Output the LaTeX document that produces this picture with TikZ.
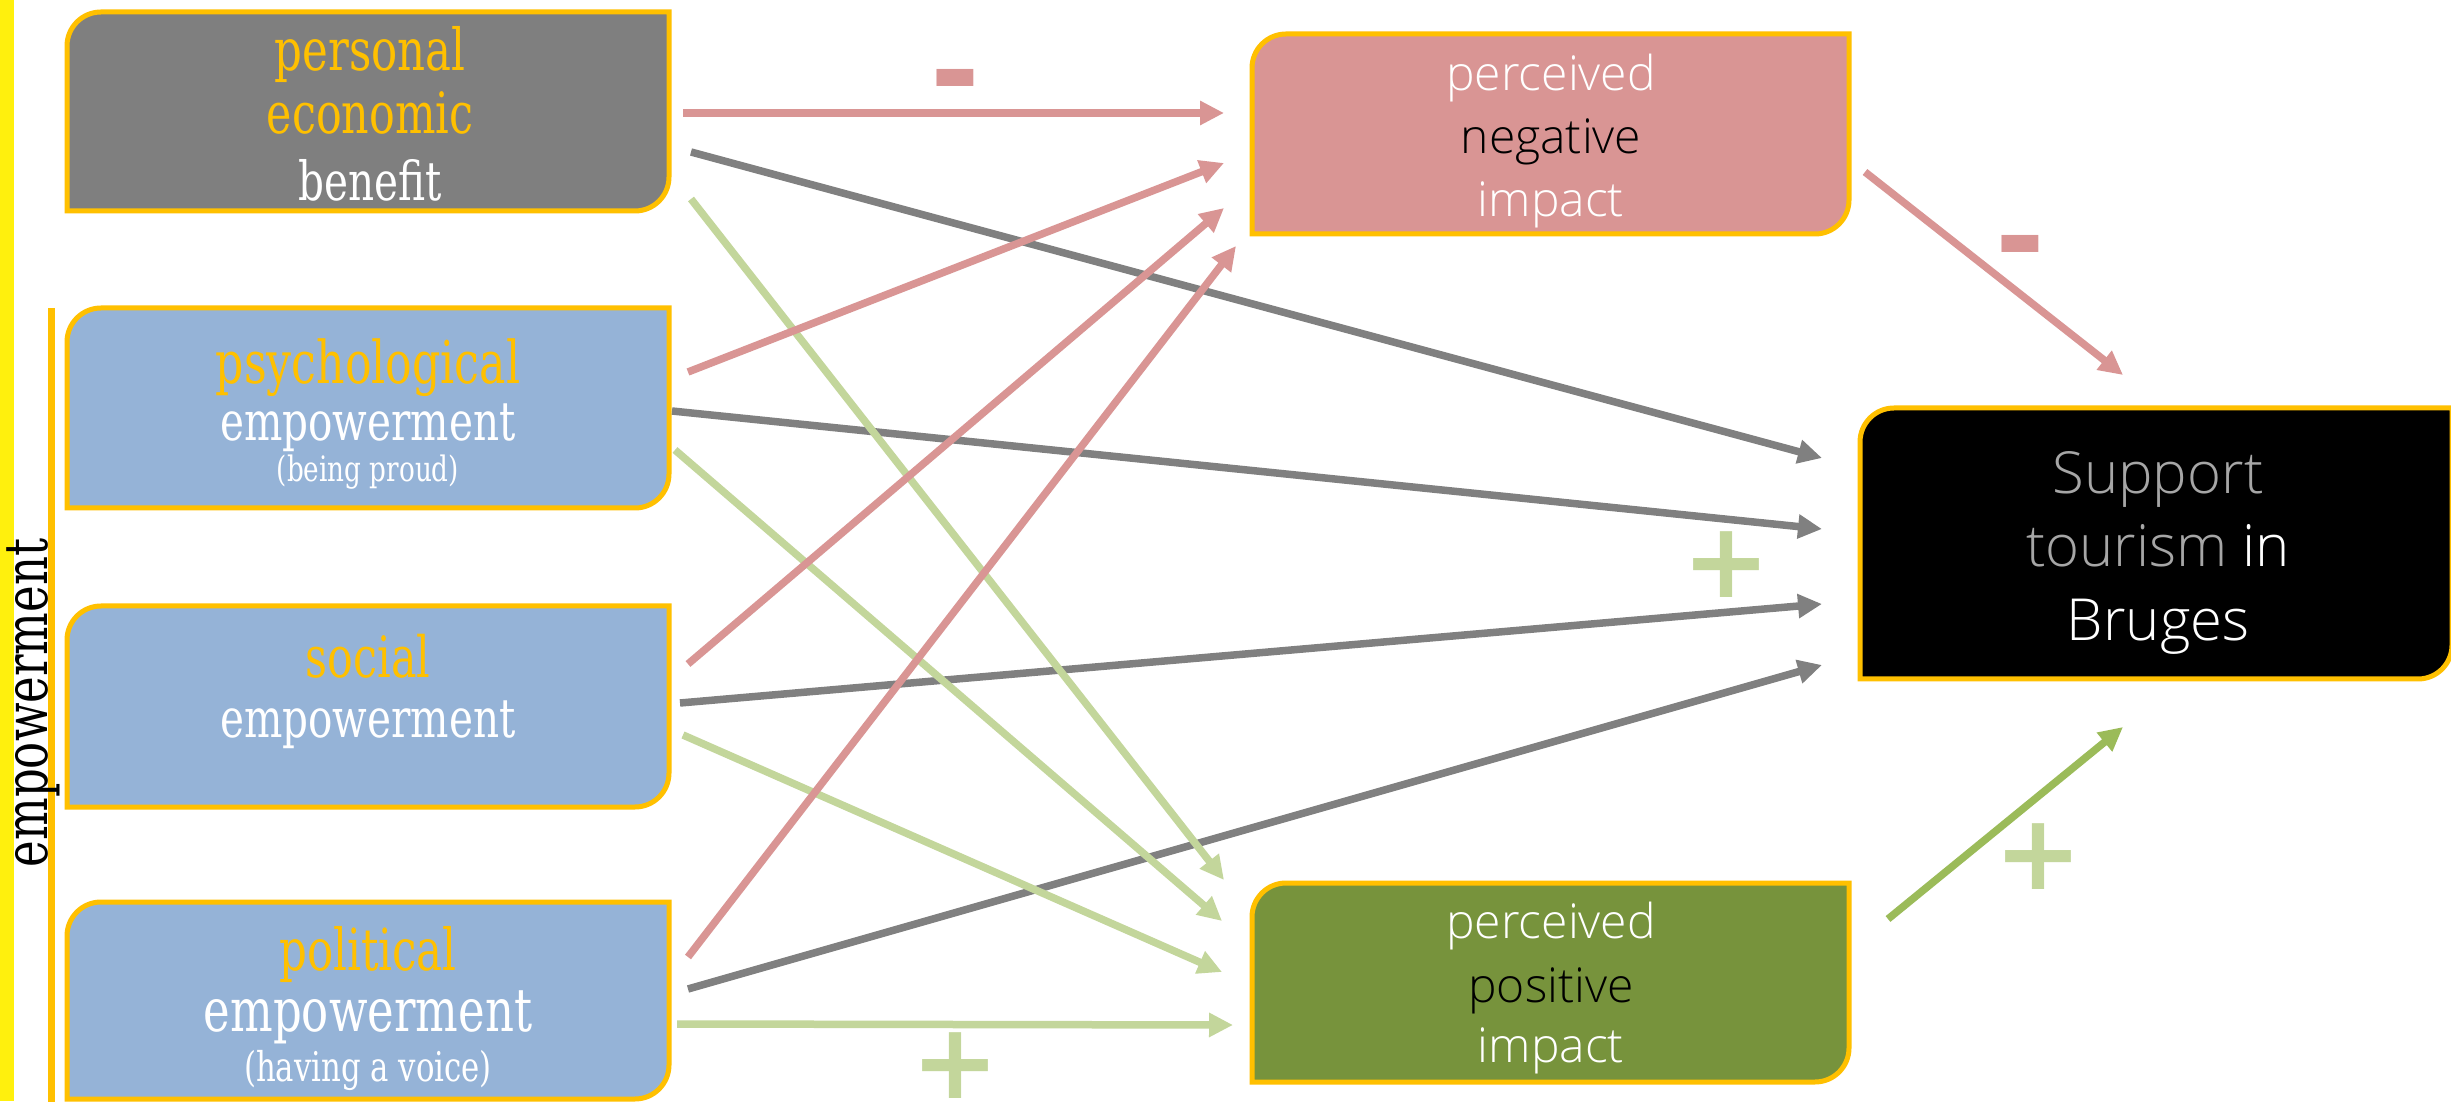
\documentclass[tikz,border=0pt]{standalone}
\usepackage{fontspec}
\usetikzlibrary{arrows.meta}
\newfontfamily\slab{DejaVu Serif}[FakeStretch=0.75]
\newfontfamily\osans{Open Sans Light}
\newfontfamily\signfont{DejaVu Sans Bold}
\definecolor{gold}{HTML}{FFC000}
\definecolor{edgeyellow}{rgb}{1,0.94,0.05}
\definecolor{graybox}{HTML}{7F7F7F}
\definecolor{bluebox}{HTML}{95B3D7}
\definecolor{pinkc}{HTML}{D99594}
\definecolor{greenbox}{HTML}{77933C}
\definecolor{lgreen}{HTML}{C3D69B}
\definecolor{dgreen}{HTML}{9BBB59}
\definecolor{grayarrow}{HTML}{808080}
\definecolor{lightgraytext}{HTML}{A6A6A6}
\newcommand\tabbox[2]{%
  \path[draw=gold, line width=5pt, fill=#2]
    (#1.south west) -- ([yshift=-34pt]#1.north west)
    arc[start angle=180, end angle=90, radius=34pt]
    -- (#1.north east) -- ([yshift=34pt]#1.south east)
    arc[start angle=0, end angle=-90, radius=34pt] -- cycle;}
\tikzset{
  boxarea/.style 2 args={inner sep=0pt, outer sep=0pt, minimum width=#1, minimum height=#2},
  sl/.style={anchor=base, inner sep=0pt, font=\slab\fontsize{#1}{#1}\selectfont},
  ss/.style={anchor=base, inner sep=0pt, font=\osans\fontsize{#1}{#1}\selectfont},
  sign/.style={inner sep=0pt, font=\signfont\fontsize{#1}{#1}\selectfont},
  conn/.style={line width=7.5pt, -{Triangle[length=24pt,width=23pt]}},
  redc/.style={conn, draw=pinkc},
  grayc/.style={conn, draw=grayarrow},
  greenc/.style={conn, draw=lgreen},
  dgreenc/.style={conn, draw=dgreen},
}
\begin{document}
\begin{tikzpicture}[x=1pt, y=1pt]
\path[fill=white] (0,0) rectangle (2451,1101);
\useasboundingbox (0,0) rectangle (2451,1101);
% left bars
\path[fill=edgeyellow] (0,0) rectangle (14,1101);
\draw[gold, line width=7pt] (51.5,793) -- (51.5,-5);
\node[sl=60, rotate=90, text=black] (emp) at (47,398) {empowerment};
% box areas
\node[boxarea={602}{199}] (pe) at (368,989.5) {};
\node[boxarea={602}{200}] (ps) at (368,693) {};
\node[boxarea={602}{201}] (so) at (368,394.5) {};
\node[boxarea={602}{197}] (po) at (368,100.5) {};
\node[boxarea={597}{200}] (ng) at (1550.5,967) {};
\node[boxarea={597}{199}] (pv) at (1550.5,118.5) {};
\node[boxarea={592}{271}] (su) at (2156,557.5) {};
\tabbox{pe}{graybox}
\tabbox{ps}{bluebox}
\tabbox{so}{bluebox}
\tabbox{po}{bluebox}
\tabbox{ng}{pinkc}
\tabbox{pv}{greenbox}
\tabbox{su}{black}
% texts left
\node[sl=58, text=gold] (pe1) at (370,1030) {personal};
\node[sl=57, text=gold] (pe2) at (370,967) {economic};
\node[sl=54, text=white] (pe3) at (370,900) {benefit};
\node[sl=59, text=gold] (ps1) at (368,717) {psychological};
\node[sl=54, text=white] (ps2) at (368,660) {empowerment};
\node[sl=35, text=white] (ps3) at (368,619) {(being proud)};
\node[sl=57, text=gold] (so1) at (368,423) {social};
\node[sl=54, text=white] (so2) at (368,363) {empowerment};
\node[sl=58, text=gold] (po1) at (368,131) {political};
\node[sl=60, text=white] (po2) at (368,70) {empowerment};
\node[sl=41, text=white] (po3) at (368,20) {(having a voice)};
% texts right
\node[ss=48, text=white] (ng1) at (1551,1010) {perceived};
\node[ss=48, text=black] (ng2) at (1551,947) {negative};
\node[ss=48, text=white] (ng3) at (1551,884) {impact};
\node[ss=48, text=white] (pv1) at (1551,163) {perceived};
\node[ss=48, text=black] (pv2) at (1551,99) {positive};
\node[ss=48, text=white] (pv3) at (1551,39) {impact};
\node[ss=58, text=lightgraytext] (su1) at (2158,607) {Support};
\node[ss=58, text=white] (su2) at (2158,534) {\textcolor{lightgraytext}{tourism} in};
\node[ss=58, text=white] (su3) at (2158,460) {Bruges};
% gray connectors
\draw[grayc] ([shift={(22,-40.5)}]pe.east) -- ([shift={(-38,85.5)}]su.west);
\draw[grayc] ([shift={(3,-3)}]ps.east) -- ([shift={(-38,14.5)}]su.west);
\draw[grayc] ([shift={(11,3.5)}]so.east) -- ([shift={(-38,-60.5)}]su.west);
\draw[grayc] ([shift={(19,11.5)}]po.east) -- ([shift={(-38,-121.5)}]su.west);
% light green connectors
\draw[greenc] ([shift={(22,-87.5)}]pe.east) -- ([shift={(-28,102.5)}]pv.west);
\draw[greenc] ([shift={(6,-42)}]ps.east) -- ([shift={(-30,61.5)}]pv.west);
\draw[greenc] ([shift={(14,-28.5)}]so.east) -- ([shift={(-30,10.5)}]pv.west);
\draw[greenc] ([shift={(8,-23.5)}]po.east) -- ([shift={(-19,-42.5)}]pv.west);
% red connectors
\draw[redc] ([shift={(14,-1.5)}]pe.east) -- ([shift={(-28,21)}]ng.west);
\draw[redc] ([shift={(19,36)}]ps.east) -- ([shift={(-28,-29)}]ng.west);
\draw[redc] ([shift={(19,42.5)}]so.east) -- ([shift={(-28,-74)}]ng.west);
\draw[redc] ([shift={(19,43.5)}]po.east) -- ([shift={(-16,-112)}]ng.west);
\draw[redc] ([shift={(16,-38)}]ng.east) -- ([shift={(263,33)}]su.north west);
\draw[dgreenc] ([shift={(39,63.5)}]pv.east) -- ([shift={(263,-48)}]su.south west);
% signs
\node[sign=120, text=pinkc] (m1) at (955,1010) {-};
\node[sign=120, text=pinkc] (m2) at (2020,844) {-};
\node[sign=105, text=lgreen] (p1) at (1726,536) {+};
\node[sign=105, text=lgreen] (p2) at (2038,244) {+};
\node[sign=105, text=lgreen] (p3) at (955,35) {+};
\end{tikzpicture}
\end{document}
